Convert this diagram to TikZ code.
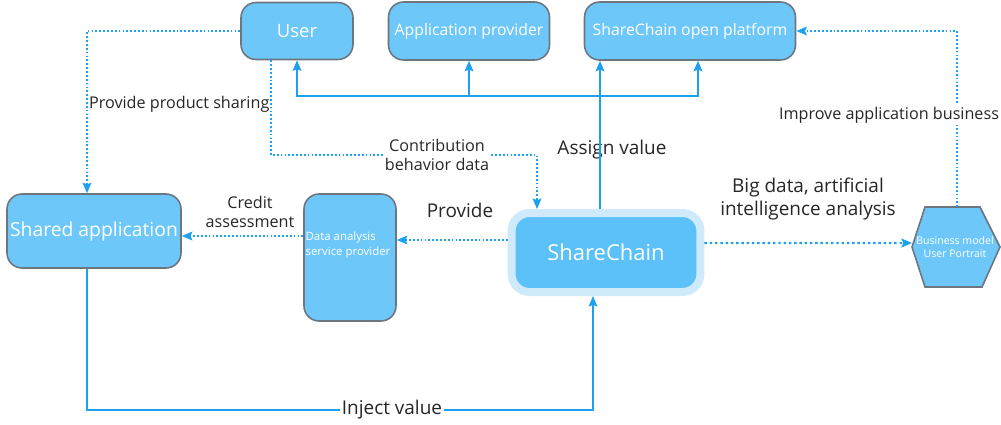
\documentclass[tikz,border=0pt]{standalone}
\usepackage{fontspec}
\setmainfont{Open Sans}
\usetikzlibrary{arrows.meta}
\definecolor{skyfill}{HTML}{6DC8F9}
\definecolor{chainfill}{HTML}{5CC1F8}
\definecolor{chainglow}{HTML}{CFEBFB}
\definecolor{boxline}{HTML}{6B7680}
\definecolor{flow}{HTML}{1DA1EE}

\begin{document}
\begin{tikzpicture}[x=0.02cm, y=-0.02cm,
            box/.style={draw=boxline, fill=skyfill, line width=0.9pt, rounded corners=0.3cm, text=white, inner sep=0pt, font=\fontsize{9}{11}\selectfont},
            solidflow/.style={draw=flow, line width=0.8pt},
            dotflow/.style={draw=flow, line width=0.8pt, dash pattern=on 1pt off 1.2pt},
            tip/.style={-{Stealth[length=6pt, width=5pt, inset=1pt]}},
            lbl/.style={text=black!85, inner sep=1pt, align=center, font=\fontsize{9.2}{11}\selectfont},
            biglbl/.style={lbl, font=\fontsize{10.8}{13}\selectfont}]
            \useasboundingbox (0,0) rectangle (1001,424);
            % boxes
            \node[box, minimum width=2.24cm, minimum height=1.14cm, font=\fontsize{10.5}{12}\selectfont] (user) at (297,31) {User};
            \node[box, minimum width=3.22cm, minimum height=1.16cm] (appprov) at (469,31) {Application provider};
            \node[box, minimum width=4.22cm, minimum height=1.16cm] (platform) at (690,31) {ShareChain open platform};
            \node[box, minimum width=3.48cm, minimum height=1.48cm, font=\fontsize{11}{13}\selectfont] (sharedapp) at (94,231) {Shared application};
            \node[box, minimum width=1.84cm, minimum height=2.54cm] (analysis) at (350,257.5) {};
            \node[text=white, align=left, inner sep=0pt, font=\fontsize{6.5}{8.5}\selectfont] (analysistext) at (348,245) {Data analysis\\service provider};
            \node[box, draw=chainglow, fill=chainfill, line width=0.16cm, minimum width=3.78cm, minimum height=1.58cm, rounded corners=0.36cm, font=\fontsize{12.5}{14}\selectfont] (sharechain) at (606,252.5) {ShareChain};
            \draw[draw=boxline, fill=skyfill, line width=0.9pt] (912,247) -- (925,207) -- (980,207) -- (1000,247) -- (982,287) -- (925,287) -- cycle;
            \node[text=white, align=center, inner sep=0pt, font=\fontsize{6}{7.5}\selectfont] (portrait) at (955,247) {Business model\\User Portrait};
            \coordinate (hextop) at (957,207);
            \coordinate (hexleft) at (912,243);
            \coordinate (branch) at (600,96);
            % labels
            \node[lbl, anchor=west] (sharing) at (87,104) {Provide product sharing};
            \node[lbl] (contrib) at (437,155) {Contribution\\behavior data};
            \node[biglbl] (assign) at (612,150) {Assign value};
            \node[lbl] (credit) at (250,212) {Credit\\assessment};
            \node[biglbl] (provide) at (460,210) {Provide};
            \node[biglbl] (bigdata) at (808,199) {Big data, artificial\\intelligence analysis};
            % connectors
            \draw[dotflow, tip] (user.west) -| ([xshift=-0.14cm]sharedapp.north);
            \draw[dotflow] ([xshift=-0.52cm]user.south) |- (contrib.west);
            \draw[dotflow, tip] (contrib.east) -| ([xshift=-1.38cm]sharechain.north);
            \draw[solidflow, tip] ([xshift=-0.12cm]sharechain.north) -- ([xshift=-0.12cm]sharechain.north |- platform.south);
            \draw[solidflow, tip] (branch) -| (user.south);
            \draw[solidflow, tip] (branch) -| (appprov.south);
            \draw[solidflow, tip] (branch) -| ([xshift=0.16cm]platform.south);
            \draw[dotflow, tip] ([yshift=0.25cm]sharechain.west) -- ([yshift=0.25cm]sharechain.west -| analysis.east);
            \draw[dotflow, tip] ([yshift=0.43cm]analysis.west) -- ([yshift=0.43cm]analysis.west -| sharedapp.east);
            \draw[dotflow, line width=1.4pt, dash pattern=on 1.4pt off 1.6pt, tip] ([yshift=0.19cm]sharechain.east) -- (hexleft);
            \draw[dotflow, tip] (hextop) |- (platform.east);
            \node[lbl, fill=white] (improve) at (889,115) {Improve application business};
            \node[biglbl, fill=white] (inject) at (392,410) {Inject value};
            \draw[solidflow] ([xshift=-0.14cm]sharedapp.south) |- (inject.west);
            \draw[solidflow, tip] (inject.east) -| ([xshift=-0.26cm]sharechain.south);
\end{tikzpicture}
\end{document}
